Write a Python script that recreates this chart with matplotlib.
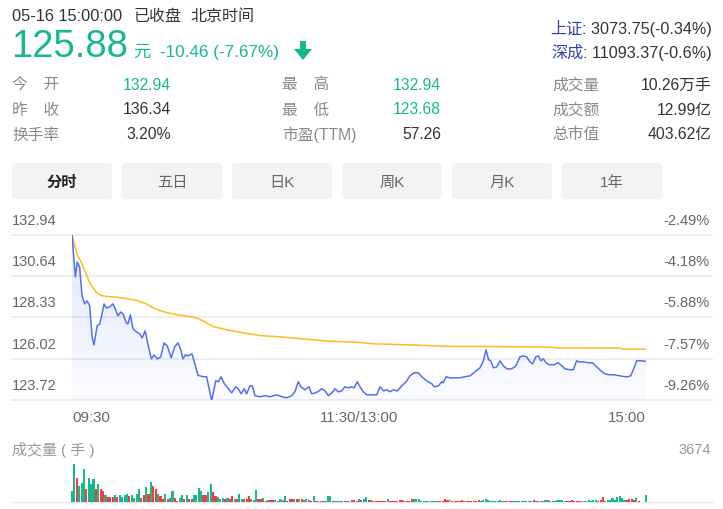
import numpy as np
import matplotlib.pyplot as plt
from matplotlib.patches import FancyBboxPatch, Polygon
from matplotlib.colors import LinearSegmentedColormap

plt.rcParams['font.family'] = ['Liberation Sans', 'Noto Sans CJK SC']

# ---- quote header ----
quote_time = "05-16 15:00:00"
last_price = "125.88"
change_text = "-10.46 (-7.67%)"
index_names = ["上证", "深成"]
index_values = [": 3073.75(-0.34%)", ": 11093.37(-0.6%)"]

stat_labels = [["今\u3000开", "昨\u3000收", "换手率"],
               ["最\u3000高", "最\u3000低", "市盈(TTM)"],
               ["成交量", "成交额", "总市值"]]
stat_values = [["132.94", "136.34", "3.20%"],
               ["132.94", "123.68", "57.26"],
               ["10.26万手", "12.99亿", "403.62亿"]]
stat_green = [[True, False, False],
              [True, True, False],
              [False, False, False]]

tabs = ["分时", "五日", "日K", "周K", "月K", "1年"]

# ---- intraday chart ----
y_ticks = [132.94, 130.64, 128.33, 126.02, 123.72]
pct_ticks = ["-2.49%", "-4.18%", "-5.88%", "-7.57%", "-9.26%"]
time_pos = [0, 120, 240]
time_labels = ["09:30", "11:30/13:00", "15:00"]

price_min = [0, 1.4, 2.2, 3.2, 4.2, 5.3, 6.3, 7.4, 8.4, 9.2, 10.5, 11.6, 12.3, 13.4, 14.3,
             15.8, 17.1, 18.1, 19.2, 20.4, 21.3, 22.7, 23.4, 24.4, 25.5, 26.9, 28.3, 29.3,
             30.6, 31.8, 33.2, 34.3, 35.7, 37.1, 38.5, 39.8, 41.5, 42.9, 44.3, 45.4, 46.4,
             47.4, 48.5, 50.2, 51.0, 52.7, 54.9, 56.3, 58.4, 60.1, 61.2, 62.3, 63.7, 65.4,
             66.8, 68.4, 69.5, 70.7, 72.0, 73.0, 74.4, 75.4, 76.5, 78.6, 80.7, 82.8, 85.6,
             87.7, 89.8, 91.9, 93.2, 94.6, 95.7, 97.4, 99.1, 100.2, 101.9, 103.3, 104.4,
             105.8, 107.2, 108.6, 110.0, 111.3, 112.8, 114.1, 115.5, 116.9, 118.0, 119.3,
             120.4, 121.8, 123.2, 125.3, 127.4, 128.8, 130.2, 131.6, 133.0, 134.3, 136.0,
             137.9, 139.7, 141.3, 143.0, 144.8, 146.2, 148.3, 150.4, 151.4, 153.2, 154.6,
             155.2, 156.4, 158.0, 160.1, 162.2, 164.3, 166.4, 168.5, 170.6, 172.0, 173.1,
             174.2, 175.1, 176.2, 177.6, 179.0, 180.3, 181.8, 183.8, 185.6, 187.3, 188.7,
             190.1, 191.5, 192.6, 193.9, 195.0, 196.0, 197.1, 198.2, 199.6, 201.5, 203.3,
             204.8, 206.1, 208.2, 209.6, 211.0, 212.1, 213.8, 215.9, 217.7, 219.4, 221.1,
             222.9, 224.7, 226.6, 229.1, 231.2, 232.2, 233.6, 234.7, 236.1, 238.2, 240]
price = [132.94, 130.60, 131.43, 131.15, 129.54, 129.09, 129.26, 128.98, 127.25, 126.80,
         127.86, 127.97, 128.36, 129.09, 128.87, 128.92, 129.09, 128.81, 128.42, 128.64,
         128.53, 128.03, 127.97, 128.48, 127.70, 127.53, 127.42, 127.19, 127.58, 126.80,
         126.02, 126.24, 126.02, 126.13, 126.91, 126.75, 126.08, 126.69, 126.91, 126.58,
         126.02, 126.24, 126.19, 126.30, 125.91, 125.10, 125.02, 125.02, 123.68, 124.79,
         124.74, 125.02, 124.63, 124.35, 124.12, 124.46, 124.35, 124.07, 124.35, 124.07,
         124.51, 124.51, 123.96, 123.90, 123.96, 123.90, 124.01, 123.90, 123.84, 123.96,
         124.18, 124.74, 124.46, 124.29, 124.46, 124.07, 124.12, 124.23, 124.35, 124.23,
         123.96, 124.12, 124.35, 124.18, 124.23, 124.46, 124.40, 124.46, 124.40, 124.74,
         124.46, 124.18, 124.01, 124.01, 124.01, 124.46, 124.23, 124.29, 124.18, 124.29,
         124.23, 124.51, 124.74, 125.07, 125.24, 125.24, 125.02, 124.79, 124.63, 124.46,
         124.51, 124.74, 124.68, 125.02, 124.96, 124.96, 124.96, 125.02, 125.07, 125.30,
         125.52, 125.91, 126.52, 125.97, 125.91, 125.52, 125.57, 125.91, 125.63, 125.46,
         125.46, 125.63, 126.13, 126.19, 126.13, 125.85, 125.74, 126.13, 126.19, 125.91,
         126.02, 125.80, 125.69, 125.69, 125.80, 125.63, 125.46, 125.41, 125.41, 125.91,
         125.85, 125.85, 125.80, 125.80, 125.57, 125.35, 125.18, 125.13, 125.13, 125.07,
         125.02, 125.02, 125.07, 125.41, 125.91, 125.91, 125.88]

avg_min = [0, 2.2, 3.9, 5.3, 6.7, 8.1, 10.2, 12.3, 15.1, 19.2, 23.4, 27.6, 31.1, 33.9,
           36.7, 40.1, 44.3, 48.5, 52.7, 59.1, 64.7, 71.6, 78.6, 87.0, 99.5, 106.5, 119.0,
           126.0, 141.3, 159.4, 174.8, 201.1, 202.6, 229.1, 230.5, 240]
avg_price = [132.94, 131.82, 131.42, 130.95, 130.48, 130.11, 129.74, 129.55, 129.50,
             129.46, 129.37, 129.27, 129.09, 128.87, 128.72, 128.59, 128.47, 128.40,
             128.29, 127.82, 127.64, 127.47, 127.32, 127.25, 127.10, 127.01, 126.95,
             126.86, 126.80, 126.71, 126.71, 126.67, 126.63, 126.62, 126.56, 126.56]

# ---- volume per minute (09:30 .. 15:00) ----
volume = [1070, 3674, 2275, 1560, 1820, 3185, 1235, 2275, 1720, 2210,
          1235, 1720, 1235, 1070, 650, 520, 520, 520, 715, 520,
          650, 520, 650, 810, 585, 715, 420, 750, 1235, 420,
          650, 1460, 750, 1980, 1560, 1235, 810, 585, 325, 750,
          325, 420, 1100, 420, 100, 420, 650, 260, 680, 260,
          260, 715, 650, 1330, 1070, 715, 715, 975, 1720, 975,
          585, 490, 260, 420, 260, 420, 260, 585, 260, 325,
          810, 325, 325, 325, 585, 260, 195, 1170, 325, 260,
          420, 100, 195, 195, 195, 195, 100, 260, 195, 585,
          100, 325, 325, 260, 260, 260, 260, 195, 260, 195,
          130, 585, 130, 130, 130, 100, 130, 585, 585, 130,
          130, 130, 130, 130, 130, 130, 130, 195,
          195, 130, 260, 195, 325, 455, 195, 195, 130, 130,
          130, 130, 130, 130, 260,
          # afternoon
          130, 100, 130, 130, 230, 230, 130, 100, 130,
          325, 325, 290, 325,
          130, 130, 100, 130, 130, 100, 130,
          130, 130, 100, 290, 160,
          290,
          130, 100, 130, 130, 160, 130, 100, 130, 130, 100, 130, 160,
          130, 160, 290, 160, 130, 130, 100, 130,
          160, 130, 100, 130, 130, 100,
          130, 130, 100, 130, 130, 100, 130, 130,
          160, 130, 130, 100, 130, 230, 230, 130,
          130, 130, 160, 230, 160, 130,
          130, 130, 230, 130, 100, 130,
          100, 130, 130, 160, 130, 160, 230,
          130, 160, 455, 130, 230,
          230, 390, 160, 455, 550, 390, 160,
          230, 325, 290, 160,
          420, 65, 0, 0, 715]
vol_dir = ("ggrgggrggg" "rgrrgrrrgr" "ggggrggggr" "rgrgrrgrrg" "rggrrggrgr"
           "rggggrrggr" "rgggrgrrgr" "ggrrrgggrr" "grgrrgrggg" "rrrgrgrggr"
           "rgrrgrgggr" "ggggrggr" "rrgrggrgrr" "rrrrg"
           "rrrrrrrrr" "rggg" "ggggggg" "rrrrr" "w" "rrrrrrrrrrrr" "gggggggg"
           "ggrrrr" "gggggggg" "rgrrggrg" "gggggg" "rrrrrr" "ggggggg" "rrrrg"
           "ggggggg" "rrrr" "g" "r" "ggg")

assert len(price_min) == len(price), (len(price_min), len(price))
assert len(avg_min) == len(avg_price)
assert len(volume) == 241 and len(vol_dir) == 241, (len(volume), len(vol_dir))

GREEN = '#16b88e'
RED = '#f93a3a'
dir_colors = {'r': RED, 'g': GREEN, 'w': '#c8c8c8'}

W, H = 723, 510
fig = plt.figure(figsize=(W / 100, H / 100), dpi=100)
bg = fig.add_axes([0, 0, 1, 1])
bg.set_xlim(0, W)
bg.set_ylim(H, 0)
bg.axis('off')

# header line
bg.text(12, 21, quote_time, fontsize=11.8, color='#333333')
bg.text(133, 21, "已收盘", fontsize=11.5, color='#333333')
bg.text(190, 21, "北京时间", fontsize=11.5, color='#333333')

bg.text(11, 57, last_price, fontsize=27.5, color=GREEN)
bg.text(133, 57, "元", fontsize=12.5, color=GREEN)
bg.text(160, 57, change_text, fontsize=12.3, color=GREEN)
bg.add_patch(Polygon([(300, 42), (306, 42), (306, 50), (312, 50), (303, 61), (294, 50), (300, 50)],
                     closed=True, color=GREEN, lw=0))

for i, (nm, val) in enumerate(zip(index_names, index_values)):
    y = 34 + i * 24
    vt = bg.text(712, y, val, fontsize=11.6, color='#333333', ha='right')
    bg.annotate(nm, xy=(0, 0), xycoords=vt, ha='right', va='bottom',
                fontsize=11.6, color='#3340a8')

# stats rows
label_x = [12, 282, 552]
value_x = [171, 441, 712]
for c in range(3):
    for r in range(3):
        y = 85 + r * 25
        bg.text(label_x[c], y, stat_labels[c][r], fontsize=11.3, color='#8a8a8a', va='center')
        bg.text(value_x[c], y, stat_values[c][r], fontsize=11.3, va='center', ha='right',
                color=GREEN if stat_green[c][r] else '#333333')

# tabs
for i, name in enumerate(tabs):
    x0 = 12 + i * 110
    bg.add_patch(FancyBboxPatch((x0, 164), 100, 36, boxstyle="round,pad=0,rounding_size=4",
                                fc='#f2f3f5', ec='none'))
    bg.text(x0 + 50, 183, name, fontsize=11, ha='center', va='center',
            color='#222222' if i == 0 else '#666666',
            fontweight='bold' if i == 0 else 'normal')

# price chart
ax = fig.add_axes([72 / W, 1 - 401 / H, 574 / W, 165 / H])
ax.axis('off')
left_ext = -60 / 574
right_ext = 1 + 66 / 574
for v, p in zip(y_ticks, pct_ticks):
    ax.axhline(v, xmin=left_ext, xmax=right_ext, color='#ececec', lw=1.3, clip_on=False, zorder=0)
    ax.annotate(f"{v:.2f}", xy=(12, v), xycoords=('figure pixels', 'data'),
                xytext=(0, 15), textcoords='offset pixels', va='center', ha='left',
                fontsize=10.5, color='#666666')
    ax.annotate(p, xy=(710, v), xycoords=('figure pixels', 'data'),
                xytext=(0, 15), textcoords='offset pixels', va='center', ha='right',
                fontsize=10.5, color='#666666')

fill = ax.fill_between(price_min, price, y_ticks[-1], color='none', lw=0)
grad = np.linspace(1, 0, 256).reshape(-1, 1)
cmap = LinearSegmentedColormap.from_list('fade', [(0.33, 0.45, 0.94, 0.02), (0.33, 0.45, 0.94, 0.18)])
im = ax.imshow(grad, extent=[0, 240, y_ticks[-1], y_ticks[0]], aspect='auto', cmap=cmap,
               origin='upper', zorder=1)
im.set_clip_path(fill.get_paths()[0], transform=ax.transData)

ax.plot(avg_min, avg_price, color='#fcbd1e', lw=1.1, zorder=2)
ax.plot(price_min, price, color='#5470f0', lw=1.1, zorder=3)
ax.set_xlim(0, 240)
ax.set_ylim(y_ticks[-1], y_ticks[0])

for tp, tl, ha in zip(time_pos, time_labels, ['left', 'center', 'right']):
    ax.annotate(tl, xy=(tp, H - 418), xycoords=('data', 'figure pixels'),
                ha=ha, va='center', fontsize=10.8, color='#666666')

# volume chart
bg.text(12, 450, "成交量 ( 手 )", fontsize=10.8, color='#999999', va='center')
bg.text(711, 450, str(max(volume)), fontsize=10.5, color='#999999', va='center', ha='right')

vax = fig.add_axes([72 / W, 1 - 503 / H, 574 / W, 38 / H])
vax.axis('off')
vax.bar(np.arange(len(volume)), volume, width=0.88, lw=0,
        color=[dir_colors[d] for d in vol_dir], clip_on=False, zorder=2)
vax.axhline(0, xmin=left_ext, xmax=right_ext, color='#e8e8e8', lw=1, clip_on=False, zorder=1)
vax.set_xlim(0, 240)
vax.set_ylim(0, max(volume))

fig.savefig("out.png", dpi=100)
